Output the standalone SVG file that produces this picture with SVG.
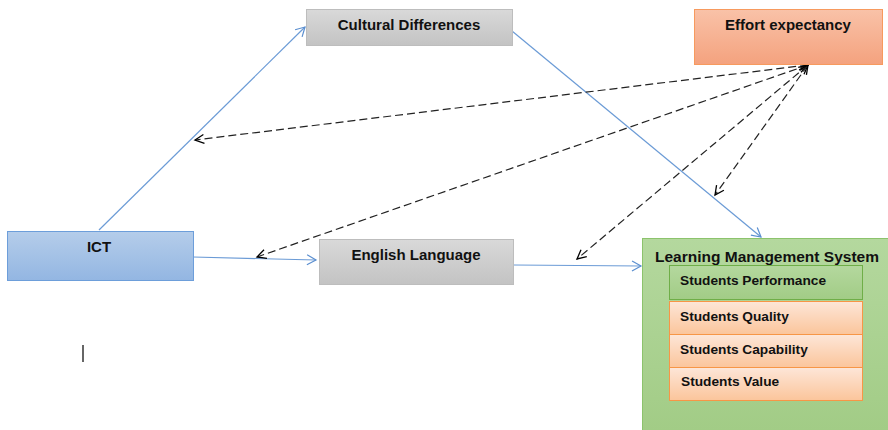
<svg xmlns="http://www.w3.org/2000/svg" width="888" height="430" viewBox="0 0 888 430">
<defs>
<linearGradient id="gGray" x1="0" y1="0" x2="0" y2="1"><stop offset="0" stop-color="#d9d9d9"/><stop offset="1" stop-color="#c3c3c3"/></linearGradient>
<linearGradient id="gOrange" x1="0" y1="0" x2="0" y2="1"><stop offset="0" stop-color="#f9c2a8"/><stop offset="1" stop-color="#f4a27e"/></linearGradient>
<linearGradient id="gBlue" x1="0" y1="0" x2="0" y2="1"><stop offset="0" stop-color="#b5cdea"/><stop offset="1" stop-color="#93b6e2"/></linearGradient>
<linearGradient id="gGreen" x1="0" y1="0" x2="0" y2="1"><stop offset="0" stop-color="#b4d89e"/><stop offset="1" stop-color="#a2cc86"/></linearGradient>
<linearGradient id="gLight" x1="0" y1="0" x2="0" y2="1"><stop offset="0" stop-color="#fde6d8"/><stop offset="1" stop-color="#fbc59b"/></linearGradient>
<marker id="aBlue" markerWidth="12" markerHeight="12" refX="10" refY="6" orient="auto" markerUnits="userSpaceOnUse"><path d="M1,1 L10,6 L1,11" fill="none" stroke="#5b8fd0" stroke-width="1.2"/></marker>
<marker id="aDash" markerWidth="12" markerHeight="12" refX="10" refY="6" orient="auto-start-reverse" markerUnits="userSpaceOnUse"><path d="M1,1.5 L10,6 L1,10.5" fill="none" stroke="#000" stroke-width="1.3"/></marker>
</defs>
<style>
.t{font-family:"Liberation Sans",Arial,sans-serif;font-weight:bold;font-size:15px;fill:#111}
.s{font-size:13.7px}
.h{font-size:15.5px}
.c{text-anchor:middle}
.blue{stroke:#6b9bd6;stroke-width:1.2;fill:none;marker-end:url(#aBlue)}
.dash{stroke:#222;stroke-width:1.2;fill:none;stroke-dasharray:8 4;marker-start:url(#aDash);marker-end:url(#aDash)}
</style>
<rect width="888" height="430" fill="#fff"/>
<g id="connectors">
<line class="blue" x1="99" y1="230" x2="305" y2="27"/>
<line class="blue" x1="512" y1="31" x2="761" y2="237"/>
<line class="blue" x1="193" y1="257" x2="316" y2="260"/>
<line class="blue" x1="514" y1="265" x2="641" y2="266"/>
<line class="dash" x1="808" y1="65" x2="195" y2="140"/>
<line class="dash" x1="808" y1="65" x2="257" y2="257"/>
<line class="dash" x1="808" y1="65" x2="577" y2="259"/>
<line class="dash" x1="808" y1="65" x2="715" y2="195"/>
</g>
<g id="cultural">
<rect x="306.5" y="9.5" width="206" height="36" fill="url(#gGray)" stroke="#bdbdbd"/>
<text class="t c" x="409" y="30">Cultural Differences</text>
</g>
<g id="effort">
<rect x="694.5" y="9.5" width="188" height="55" fill="url(#gOrange)" stroke="#f79a5e"/>
<text class="t c" x="788" y="30">Effort expectancy</text>
</g>
<g id="ict">
<rect x="7.5" y="231.5" width="186" height="49" fill="url(#gBlue)" stroke="#6d9eda"/>
<text class="t c" x="99" y="252">ICT</text>
</g>
<g id="english">
<rect x="319.5" y="239.5" width="194" height="45" fill="url(#gGray)" stroke="#bdbdbd"/>
<text class="t c" x="416" y="260">English Language</text>
</g>
<g id="lms">
<rect x="642.5" y="238.5" width="246" height="192" fill="url(#gGreen)" stroke="#8cc36c"/>
<text class="t h" x="655" y="262">Learning Management System</text>
</g>
<g id="performance">
<rect x="669.5" y="265.5" width="193" height="34" fill="url(#gGreen)" stroke="#6fae48"/>
<text class="t s" x="680" y="285">Students Performance</text>
</g>
<g id="quality">
<rect x="669.5" y="301.5" width="193" height="33" fill="url(#gLight)" stroke="#f79646"/>
<text class="t s" x="680" y="321">Students Quality</text>
</g>
<g id="capability">
<rect x="669.5" y="334.5" width="193" height="33" fill="url(#gLight)" stroke="#f79646"/>
<text class="t s" x="680" y="354">Students Capability</text>
</g>
<g id="value">
<rect x="669.5" y="367.5" width="193" height="33" fill="url(#gLight)" stroke="#f79646"/>
<text class="t s" x="681" y="386">Students Value</text>
</g>
<line x1="83" y1="345" x2="83" y2="362" stroke="#333" stroke-width="1.5"/>
</svg>
